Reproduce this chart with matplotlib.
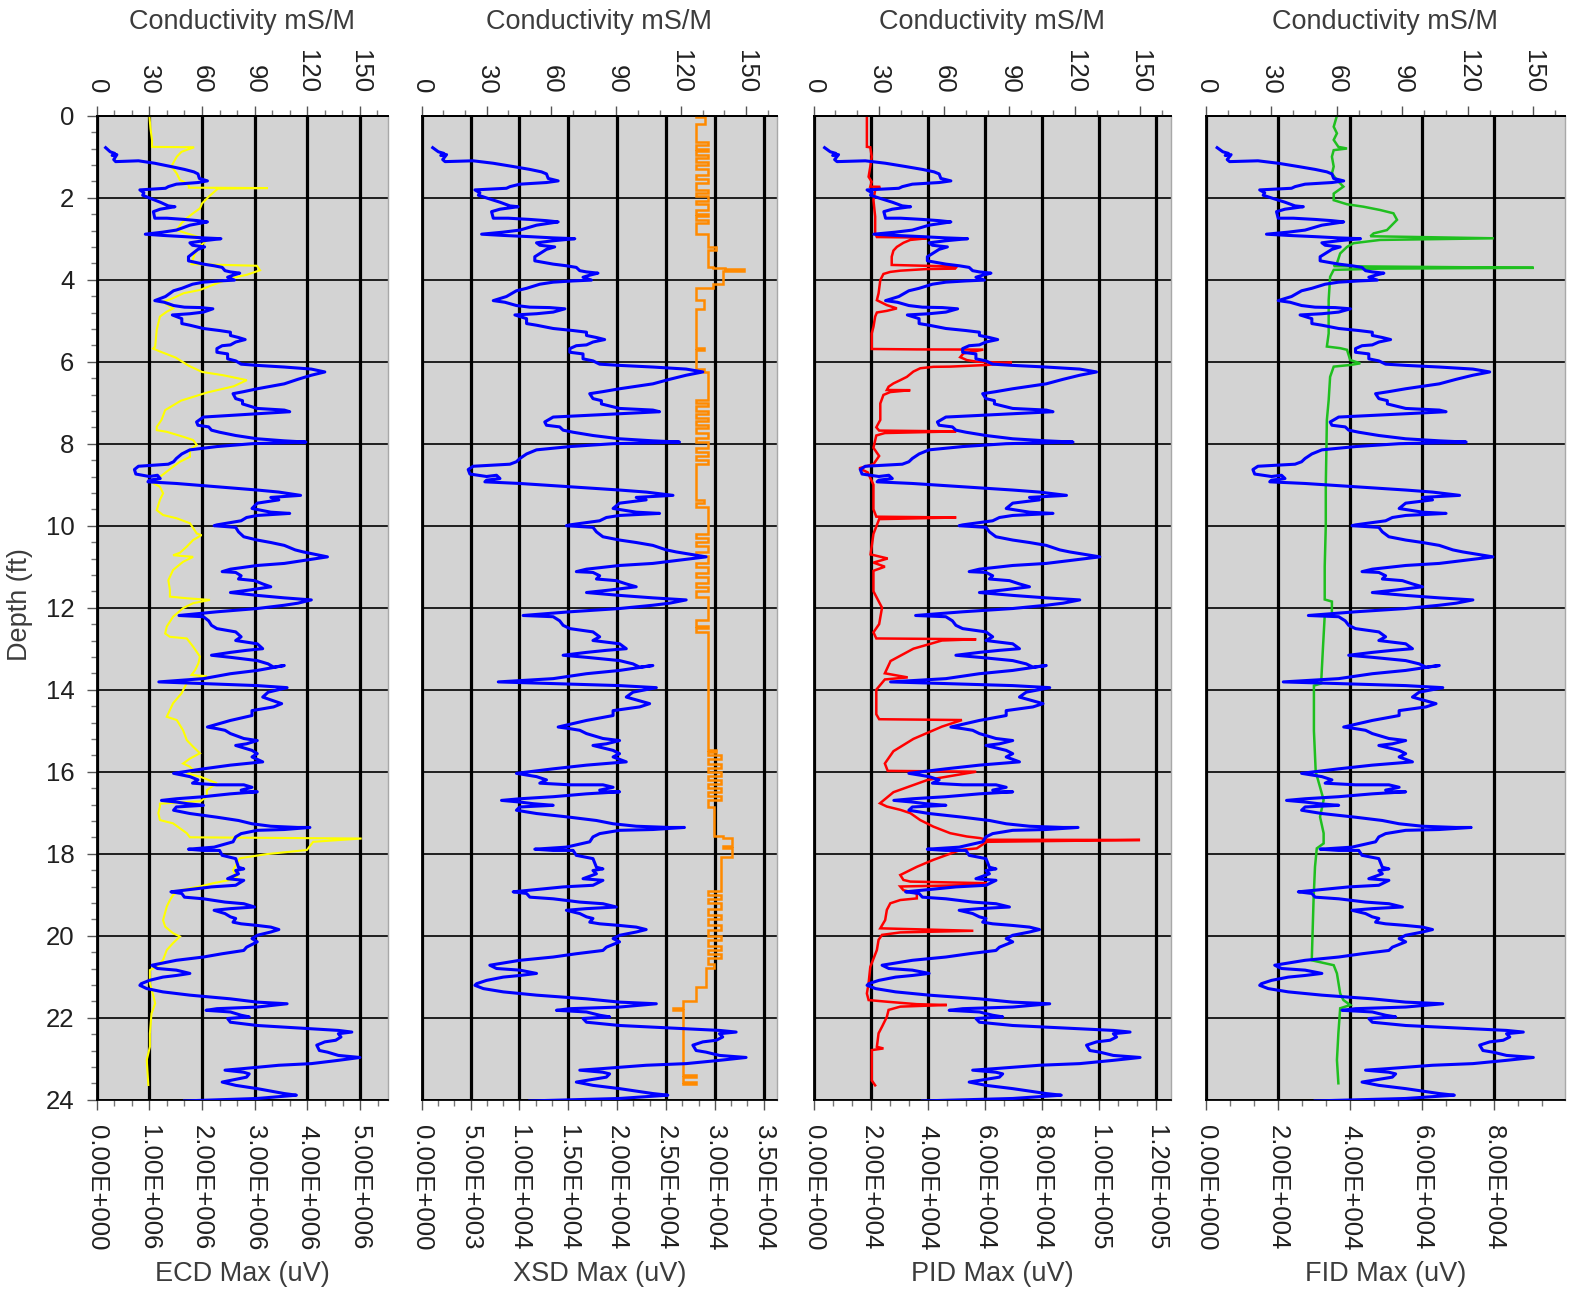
import matplotlib
matplotlib.use("Agg")
import matplotlib.pyplot as plt
from matplotlib.ticker import MultipleLocator, FixedLocator, FuncFormatter

plt.rcParams['font.family'] = ['Liberation Sans', 'DejaVu Sans']

# ---- conductivity (mS/M) vs depth (ft), same log in every panel ----
cond_depth = [0.78, 0.88, 0.92, 0.97, 0.95, 1.07, 1.12, 1.11, 1.10, 1.16, 1.24, 1.31, 1.37, 1.42, 1.53,
              1.59, 1.63, 1.67, 1.73, 1.77, 1.81, 1.88, 1.94, 2.02, 2.11, 2.20, 2.22, 2.28, 2.34, 2.50,
              2.50, 2.53, 2.56, 2.59, 2.67, 2.79, 2.84, 2.89, 2.92, 2.95, 2.98, 3.00, 3.05, 3.10, 3.16,
              3.20, 3.26, 3.44, 3.54, 3.62, 3.66, 3.70, 3.78, 3.81, 3.84, 3.89, 3.94, 4.01, 4.03, 4.06,
              4.11, 4.21, 4.27, 4.41, 4.51, 4.55, 4.63, 4.67, 4.68, 4.71, 4.79, 4.83, 4.86, 4.95, 5.07,
              5.11, 5.19, 5.24, 5.28, 5.36, 5.41, 5.46, 5.52, 5.59, 5.61, 5.68, 5.77, 5.81, 5.93, 5.98,
              6.06, 6.09, 6.13, 6.18, 6.25, 6.33, 6.43, 6.54, 6.66, 6.73, 6.78, 6.90, 6.95, 7.03, 7.14,
              7.18, 7.22, 7.27, 7.31, 7.35, 7.47, 7.55, 7.59, 7.67, 7.72, 7.80, 7.88, 7.93, 7.96, 8.00,
              8.07, 8.15, 8.25, 8.36, 8.44, 8.50, 8.55, 8.63, 8.74, 8.80, 8.77, 8.85, 8.89, 8.93, 8.97,
              9.05, 9.13, 9.18, 9.26, 9.31, 9.37, 9.45, 9.58, 9.67, 9.70, 9.75, 9.80, 9.88, 9.98, 10.00,
              10.04, 10.15, 10.27, 10.35, 10.41, 10.48, 10.59, 10.64, 10.72, 10.76, 10.84, 10.92, 10.97,
              11.06, 11.12, 11.14, 11.22, 11.30, 11.34, 11.42, 11.49, 11.54, 11.57, 11.63, 11.70, 11.76,
              11.81, 11.89, 11.94, 12.02, 12.10, 12.19, 12.22, 12.32, 12.43, 12.51, 12.59, 12.71, 12.80,
              12.88, 13.00, 13.04, 13.09, 13.16, 13.21, 13.29, 13.37, 13.45, 13.41, 13.53, 13.61, 13.73,
              13.81, 13.85, 13.90, 13.95, 14.06, 14.18, 14.34, 14.42, 14.51, 14.63, 14.75, 14.91, 14.95,
              14.99, 15.07, 15.19, 15.24, 15.32, 15.36, 15.48, 15.56, 15.64, 15.76, 15.84, 15.93, 16.04,
              16.12, 16.20, 16.28, 16.32, 16.32, 16.38, 16.45, 16.49, 16.49, 16.54, 16.61, 16.66, 16.70,
              16.74, 16.78, 16.82, 16.86, 16.94, 17.02, 17.11, 17.19, 17.27, 17.33, 17.36, 17.36, 17.41,
              17.43, 17.51, 17.59, 17.71, 17.84, 17.89, 17.92, 17.92, 18.04, 18.12, 18.33, 18.37, 18.41,
              18.49, 18.61, 18.65, 18.77, 18.81, 18.93, 18.97, 19.06, 19.10, 19.18, 19.22, 19.30, 19.34,
              19.38, 19.46, 19.54, 19.58, 19.67, 19.71, 19.75, 19.79, 19.85, 19.91, 19.99, 20.07, 20.15,
              20.28, 20.36, 20.44, 20.52, 20.60, 20.72, 20.80, 20.84, 20.92, 20.97, 21.01, 21.09, 21.17,
              21.21, 21.29, 21.37, 21.45, 21.54, 21.62, 21.66, 21.74, 21.78, 21.82, 21.86, 21.94, 21.98,
              22.02, 22.11, 22.19, 22.23, 22.27, 22.31, 22.35, 22.39, 22.47, 22.55, 22.59, 22.67, 22.80,
              22.84, 22.92, 22.97, 23.04, 23.12, 23.16, 23.24, 23.28, 23.33, 23.37, 23.45, 23.49, 23.57,
              23.65, 23.73, 23.85, 23.89, 23.97, 24.03]
cond_val = [5.1, 7.7, 10.3, 8.8, 11.5, 9.7, 10.8, 17.7, 23.8, 33.1, 42.3, 50.0, 55.4, 57.7, 58.5,
            63.1, 57.7, 45.4, 40.8, 39.2, 24.6, 26.9, 26.2, 30.8, 36.2, 40.8, 44.6, 36.2, 32.3, 33.1,
            40.0, 50.0, 57.7, 63.1, 53.1, 45.4, 37.7, 27.7, 37.7, 50.0, 60.8, 70.8, 60.8, 53.1, 54.6,
            61.5, 57.7, 52.3, 52.3, 60.8, 66.9, 71.5, 73.1, 76.2, 81.5, 77.7, 74.6, 78.5, 70.0, 60.8,
            54.6, 48.5, 43.8, 39.2, 33.1, 38.5, 43.8, 50.0, 59.2, 66.2, 60.8, 53.1, 43.1, 48.5, 48.5,
            53.1, 60.8, 70.0, 76.2, 76.2, 80.8, 84.6, 79.2, 76.2, 71.5, 68.5, 68.5, 74.6, 74.6, 79.2,
            82.3, 91.5, 106.9, 122.3, 130.0, 122.3, 114.6, 106.9, 91.5, 83.8, 77.7, 79.2, 83.1, 83.1, 91.5,
            106.9, 110.0, 91.5, 76.2, 60.8, 56.9, 57.7, 63.8, 65.4, 70.0, 79.2, 91.5, 106.9, 119.2, 88.5,
            68.5, 53.1, 48.5, 45.4, 43.8, 40.8, 23.8, 21.5, 22.3, 30.0, 34.6, 36.2, 30.0, 29.2, 45.4,
            68.5, 91.5, 103.8, 116.2, 99.2, 103.8, 91.5, 88.5, 99.2, 110.0, 91.5, 85.4, 82.3, 68.5, 66.9,
            79.2, 80.8, 83.8, 91.5, 99.2, 106.9, 113.1, 117.7, 126.9, 131.5, 119.2, 106.9, 91.5,
            76.2, 71.5, 79.2, 82.3, 80.8, 90.0, 94.6, 99.2, 91.5, 86.9, 76.2, 91.5, 106.9,
            122.3, 114.6, 106.9, 91.5, 68.5, 46.9, 60.8, 63.8, 65.4, 68.5, 79.2, 82.3, 79.2,
            91.5, 94.6, 85.4, 76.2, 65.4, 76.2, 91.5, 97.7, 100.8, 106.9, 91.5, 76.2, 60.8,
            35.4, 60.8, 91.5, 108.5, 97.7, 94.6, 105.4, 100.8, 88.5, 88.5, 76.2, 63.1, 68.5,
            73.1, 76.2, 83.8, 91.5, 85.4, 79.2, 88.5, 91.5, 88.5, 94.6, 76.2, 60.8, 43.8,
            53.1, 57.7, 54.6, 68.5, 83.8, 88.5, 82.3, 85.4, 91.5, 76.2, 60.8, 45.4, 36.9,
            45.4, 51.5, 60.8, 45.4, 43.8, 53.1, 68.5, 80.8, 88.5, 99.2, 114.6, 121.5, 106.9,
            91.5, 82.3, 79.2, 77.7, 66.9, 52.3, 60.8, 70.0, 71.5, 79.2, 80.8, 83.8, 79.2,
            80.8, 74.6, 83.8, 79.2, 65.4, 42.3, 48.5, 50.0, 60.8, 73.1, 83.8, 90.0, 76.2,
            66.9, 73.1, 76.2, 79.2, 77.7, 82.3, 91.5, 99.2, 103.8, 99.2, 91.5, 88.5, 91.5,
            85.4, 83.8, 71.5, 60.8, 45.4, 31.5, 34.6, 45.4, 53.1, 45.4, 37.7, 30.0, 25.4,
            24.6, 28.5, 37.7, 53.1, 76.2, 91.5, 108.5, 91.5, 68.5, 62.3, 76.2, 82.3, 86.9,
            74.6, 76.2, 91.5, 106.9, 122.3, 137.7, 145.4, 137.7, 139.2, 136.2, 130.0, 125.4, 126.9,
            131.5, 137.7, 150.0, 137.7, 122.3, 103.8, 83.8, 73.1, 83.8, 86.9, 85.4, 80.8, 71.5,
            79.2, 91.5, 106.9, 113.8, 91.5, 50.0]

# ---- ECD max (x 1e6 uV) ----
ecd_depth = [0.0, 0.3, 0.6, 0.76, 0.77, 0.88, 1.0, 1.16, 1.24, 1.41, 1.57, 1.61, 1.70, 1.755, 1.765,
             1.78, 1.97, 2.14, 2.26, 2.38, 2.50, 2.62, 2.79, 2.87, 2.97, 3.03, 3.2, 3.4, 3.62, 3.66,
             3.77, 3.88, 3.97, 4.09, 4.25, 4.33, 4.45, 4.54, 4.70, 4.78, 4.90, 5.22, 5.63, 5.68, 5.75,
             5.90, 6.10, 6.25, 6.33, 6.45, 6.60, 6.75, 6.95, 7.18, 7.42, 7.59, 7.67, 7.71, 7.83, 7.91,
             8.03, 8.15, 8.32, 8.44, 8.56, 8.68, 8.81, 8.97, 9.05, 9.21, 9.37, 9.62, 9.74, 9.82, 9.94,
             10.19, 10.23, 10.35, 10.51, 10.66, 10.72, 10.76, 10.88, 11.08, 11.33, 11.57, 11.73, 11.77,
             11.81, 11.89, 12.01, 12.22, 12.46, 12.63, 12.71, 12.75, 12.95, 13.19, 13.36, 13.52, 13.64,
             13.67, 13.76, 14.09, 14.33, 14.66, 14.74, 14.99, 15.23, 15.39, 15.55, 15.68, 15.80, 15.88,
             15.96, 16.04, 16.12, 16.28, 16.45, 16.61, 16.72, 16.78, 16.85, 17.01, 17.18, 17.26, 17.38,
             17.50, 17.60, 17.63, 17.71, 17.91, 18.01, 18.11, 18.24, 18.40, 18.56, 18.64, 18.72, 18.80,
             18.89, 19.01, 19.13, 19.29, 19.62, 19.78, 19.94, 20.02, 20.18, 20.35, 20.59, 20.67, 20.75,
             20.84, 21.16, 21.49, 21.65, 21.90, 22.38, 22.71, 23.03, 23.60, 23.64]
ecd_val = [1.0, 1.02, 1.05, 1.05, 1.85, 1.61, 1.52, 1.45, 1.42, 1.52, 1.58, 1.65, 1.75, 1.75, 3.25,
           2.3, 2.13, 2.0, 1.96, 1.83, 1.71, 1.61, 1.52, 1.71, 1.96, 2.09, 1.95, 1.85, 1.8, 3.04,
           3.1, 2.85, 2.53, 2.28, 1.96, 1.65, 1.45, 1.26, 1.45, 1.33, 1.2, 1.14, 1.11, 1.07, 1.2,
           1.5, 1.75, 2.0, 2.4, 2.85, 2.6, 2.1, 1.6, 1.3, 1.23, 1.14, 1.14, 1.33, 1.64, 1.83,
           1.90, 1.77, 1.77, 1.58, 1.45, 1.33, 1.20, 1.08, 1.20, 1.26, 1.20, 1.14, 1.26, 1.52, 1.77,
           1.90, 1.99, 1.83, 1.71, 1.58, 1.45, 1.83, 1.64, 1.45, 1.36, 1.39, 1.39, 1.71,
           2.15, 1.83, 1.64, 1.45, 1.33, 1.30, 1.39, 1.71, 1.83, 1.96, 1.93, 1.87, 1.80,
           2.09, 1.74, 1.61, 1.45, 1.33, 1.52, 1.64, 1.71, 1.83, 1.96, 1.77, 1.64, 1.77,
           1.83, 1.71, 1.96, 2.28, 2.09, 2.09, 1.97, 1.2, 1.20, 1.17, 1.20, 1.45, 1.58,
           1.71, 1.77, 5.03, 4.11, 3.99, 3.23, 2.72, 2.66, 2.59, 2.66, 2.53, 2.21, 1.96,
           1.58, 1.45, 1.39, 1.33, 1.26, 1.30, 1.45, 1.58, 1.45, 1.33, 1.26, 1.20, 1.14,
           1.01, 1.01, 1.08, 1.11, 1.04, 1.01, 1.01, 0.95, 0.98, 0.98]

# ---- XSD max (x 1e3 uV), value changes at the listed depth ----
xsd_depth = [0.0, 0.02, 0.2, 0.63, 0.72, 0.8, 0.87, 0.95, 1.03, 1.12, 1.2, 1.3, 1.45, 1.55, 1.63,
             1.8, 1.88, 1.95, 2.08, 2.15, 2.3, 2.4, 2.45, 2.55, 2.62, 2.89, 3.2, 3.27, 3.68, 3.72,
             3.74, 3.78, 4.1, 4.2, 4.5, 4.72, 5.67, 5.72, 6.18, 6.24, 6.93, 7.0, 7.08, 7.2, 7.28,
             7.38, 7.45, 7.55, 7.62, 7.75, 7.85, 7.95, 8.1, 8.2, 8.3, 8.4, 8.5, 8.6, 9.38, 9.45,
             9.55, 10.2, 10.3, 10.4, 10.5, 10.65, 10.75, 10.9, 11.0, 11.15, 11.25, 11.4, 11.5, 11.6,
             11.75, 12.3, 12.45, 12.5, 12.6, 15.47, 15.52, 15.6, 15.7, 15.8, 15.9, 16.0, 16.1, 16.2,
             16.3, 16.4, 16.5, 16.6, 16.7, 16.85, 17.58, 17.62, 17.8, 17.85, 18.07, 18.9, 19.0, 19.1,
             19.2, 19.35, 19.5, 19.6, 19.75, 19.85, 20.0, 20.1, 20.25, 20.35, 20.45, 20.55, 20.7,
             20.78, 21.25, 21.6, 21.76, 21.8, 23.4, 23.45, 23.58, 23.62]
xsd_val = [28.1, 29.0, 28.1, 29.3, 28.1, 29.3, 28.1, 29.3, 28.1, 29.3, 28.1, 29.3, 28.1, 29.3, 28.1,
           29.3, 28.1, 29.3, 28.1, 29.3, 28.1, 29.3, 28.1, 29.3, 28.1, 29.3, 30.1, 29.3, 29.8, 31.0,
           33.0, 30.8, 29.8, 28.1, 28.9, 28.1, 28.9, 28.1, 28.9, 29.3, 28.1, 29.3, 28.1, 29.3, 28.1,
           29.3, 28.1, 29.3, 28.1, 29.3, 28.1, 29.3, 28.1, 29.3, 28.1, 29.3, 28.1, 28.1, 28.9, 28.1,
           29.3, 28.1, 29.3, 28.1, 29.3, 28.1, 29.3, 28.1, 29.3, 28.1, 29.3, 28.1, 29.3, 28.1,
           29.3, 28.1, 29.3, 28.1, 29.3, 30.1, 29.3, 30.6, 29.3, 30.6, 29.3, 30.6, 29.3, 30.6,
           29.3, 30.6, 29.3, 30.6, 29.3, 29.96, 30.8, 31.8, 30.8, 31.8, 30.6, 29.3, 30.6, 29.3,
           30.6, 29.3, 30.6, 29.3, 30.6, 29.3, 30.6, 29.3, 30.6, 29.3, 30.6, 29.3, 29.96,
           29.1, 28.1, 26.7, 25.7, 26.7, 28.1, 26.7, 28.1, 26.7]

# ---- PID max (x 1e4 uV) ----
pid_depth = [0.0, 0.76, 0.77, 1.0, 1.24, 1.49, 1.61, 1.73, 1.735, 1.81, 2.06, 2.46, 2.87, 2.96, 2.97,
             2.99, 3.03, 3.10, 3.20, 3.29, 3.44, 3.64, 3.68, 3.73, 3.74, 3.78, 3.81, 3.86, 4.01, 4.33,
             4.50, 4.62, 4.70, 4.76, 4.80, 4.90, 5.15, 5.31, 5.69, 5.70, 5.705, 5.80, 5.89, 5.96, 6.0,
             6.02, 6.025, 6.08, 6.12, 6.125, 6.16, 6.24, 6.37, 6.45, 6.53, 6.61, 6.69, 6.695, 6.74, 6.81,
             7.02, 7.42, 7.6, 7.68, 7.7, 7.74, 7.8, 8.1, 8.3, 8.5, 8.6, 8.7, 9.0, 9.6, 9.78,
             9.8, 9.84, 10.2, 10.7, 10.8, 10.9, 11.0, 11.1, 11.6, 12.0, 12.4, 12.6, 12.75, 12.77, 12.8,
             13.0, 13.3, 13.6, 13.7, 13.75, 14.0, 14.6, 14.72, 14.74, 14.9, 15.2, 15.5, 15.8, 15.98,
             16.0, 16.2, 16.5, 16.77, 16.85, 16.93, 17.01, 17.18, 17.34, 17.50, 17.58, 17.62, 17.66,
             17.665, 17.71, 17.87, 17.91, 18.03, 18.15, 18.32, 18.52, 18.64, 18.68, 18.72, 18.76, 18.80,
             18.89, 18.97, 19.09, 19.13, 19.21, 19.37, 19.62, 19.82, 19.88, 19.92, 19.98, 20.10, 20.35,
             20.76, 21.16, 21.41, 21.57, 21.61, 21.67, 21.69, 21.73, 21.81, 21.98, 22.22, 22.38, 22.71,
             22.75, 22.79, 23.20, 23.53, 23.65]
pid_val = [1.87, 1.87, 1.99, 2.04, 1.99, 1.93, 2.04, 1.99, 2.34, 2.16, 2.10, 2.16, 2.16, 2.22, 3.62,
           3.97, 3.39, 3.15, 2.92, 2.80, 2.74, 2.74, 5.02, 4.96, 3.97, 3.04, 2.69, 2.45, 2.34, 2.28,
           2.22, 2.57, 2.92, 2.57, 2.22, 2.16, 2.10, 2.04, 2.04, 3.62, 5.95, 5.25, 5.14, 5.37, 5.72,
           6.54, 6.95, 6.07, 4.79, 4.20, 3.74, 3.50, 3.27, 3.04, 2.80, 2.63, 2.57, 3.39, 2.69, 2.45,
           2.34, 2.34, 2.2, 2.3, 5.0, 2.5, 2.2, 2.1, 2.3, 2.1, 1.6, 1.9, 2.1, 2.1, 2.2,
           5.0, 2.3, 2.1, 2.0, 2.6, 2.1, 2.5, 2.1, 2.1, 2.4, 2.3, 2.1, 2.2, 5.7, 4.5,
           3.5, 2.7, 2.5, 3.3, 2.5, 2.2, 2.2, 2.3, 5.2, 4.5, 3.5, 2.8, 2.5, 2.6,
           5.7, 4.0, 2.8, 2.33, 2.57, 3.04, 3.39, 3.74, 4.20, 4.79, 5.37, 5.84, 6.07,
           11.44, 6.07, 5.72, 5.14, 4.67, 4.20, 3.62, 3.04, 3.15, 3.39, 6.07, 5.90, 3.04,
           3.15, 3.62, 3.62, 3.04, 2.69, 2.57, 2.51, 2.34, 5.60, 3.04, 2.40, 2.28, 2.22,
           1.99, 1.93, 1.87, 1.93, 2.57, 3.62, 4.67, 3.04, 2.63, 2.57, 2.40, 2.28, 2.22,
           2.45, 2.04, 2.04, 2.04, 2.16]

# ---- FID max (x 1e4 uV) ----
fid_depth = [0.0, 0.27, 0.43, 0.59, 0.76, 0.80, 0.84, 1.0, 1.24, 1.41, 1.57, 1.73, 1.90, 2.06, 2.16,
             2.22, 2.30, 2.38, 2.54, 2.79, 2.87, 2.94, 2.99, 3.03, 3.11, 3.20, 3.36, 3.60, 3.67, 3.71,
             3.73, 3.76, 3.93, 4.50, 5.31, 5.63, 5.67, 5.71, 5.96, 6.04, 6.08, 6.12, 6.37, 6.94, 7.42,
             8.0, 9.0, 10.0, 11.0, 11.8, 11.85, 12.15, 12.2, 13.0, 13.85, 13.9, 15.0, 16.0, 16.69, 17.1,
             17.5, 17.75, 17.87, 18.32, 19.13, 20.6, 20.72, 20.92, 21.41, 21.57, 21.69, 21.77, 22.38,
             23.03, 23.6]
fid_val = [3.64, 3.55, 3.64, 3.55, 3.68, 3.92, 3.55, 3.50, 3.55, 3.50, 3.64, 3.82, 3.55, 3.55, 3.92,
           4.38, 4.84, 5.21, 5.31, 5.03, 4.66, 4.57, 8.0, 4.84, 4.10, 3.92, 3.73, 3.64, 3.55, 9.11,
           4.84, 3.55, 3.45, 3.41, 3.41, 3.36, 3.73, 3.92, 4.01, 4.29, 4.01, 3.55, 3.45, 3.41, 3.36,
           3.35, 3.33, 3.33, 3.3, 3.3, 3.5, 3.5, 3.3, 3.25, 3.2, 3.0, 3.0, 3.05, 3.27, 3.17,
           3.27, 3.27, 3.08, 3.03, 2.99, 2.94, 3.55, 3.64, 3.73, 3.82, 4.01, 3.73, 3.68,
           3.64, 3.68]

DEPTH_TICKS = list(range(0, 25, 2))
COND_TICKS = [0, 30, 60, 90, 120, 150]

# panel geometry in pixels of the 1572x1294 canvas: (left, right)
W, H = 1572, 1294
TOP, BOT = 115.7, 1099.7
PANELS = [
    dict(left=96.7, right=388, xmax=5.53e6, step=1e6, nmaj=5, cmax=166,
         d=ecd_depth, v=ecd_val, scale=1e6, color="#ffff00", lw=1.5, steps=False,
         label="ECD Max (uV)"),
    dict(left=421.7, right=777, xmax=36360, step=5e3, nmaj=7, cmax=164.3,
         d=xsd_depth, v=xsd_val, scale=1e3, color="#ff8a00", lw=1.8, steps=True,
         label="XSD Max (uV)"),
    dict(left=813.5, right=1171, xmax=125240, step=2e4, nmaj=6, cmax=164.2,
         d=pid_depth, v=pid_val, scale=1e4, color="#ff0000", lw=1.8, steps=False,
         label="PID Max (uV)"),
    dict(left=1206, right=1565, xmax=99800, step=2e4, nmaj=4, cmax=164.5,
         d=fid_depth, v=fid_val, scale=1e4, color="#1fbf1f", lw=1.8, steps=False,
         label="FID Max (uV)"),
]


def sci(v, pos):
    if v == 0:
        return "0.00E+000"
    e = 0
    m = abs(v)
    while m >= 10:
        m /= 10
        e += 1
    return f"{m:.2f}E+{e:03d}"


fig = plt.figure(figsize=(W / 100, H / 100), dpi=100)
TICK_FS = 18.5
TITLE_FS = 19.5
TXT = "#3c3c3c"

for i, p in enumerate(PANELS):
    rect = [p["left"] / W, 1 - BOT / H, (p["right"] - p["left"]) / W, (BOT - TOP) / H]
    ax = fig.add_axes(rect)
    ax.set_facecolor("#d3d3d3")
    ax.set_xlim(0, p["xmax"])
    ax.set_ylim(24, 0)

    maj = [k * p["step"] for k in range(p["nmaj"] + 1)]
    ax.xaxis.set_major_locator(FixedLocator(maj))
    ax.xaxis.set_minor_locator(MultipleLocator(p["step"] / 3))
    ax.xaxis.set_major_formatter(FuncFormatter(sci))
    ax.yaxis.set_major_locator(FixedLocator(DEPTH_TICKS))
    ax.yaxis.set_minor_locator(MultipleLocator(0.4))
    ax.grid(axis="x", which="major", color="black", lw=2.3)
    ax.grid(axis="y", which="major", color="black", lw=1.2)
    ax.set_axisbelow(True)

    ax.tick_params(axis="x", which="major", direction="out", length=7, width=1,
                   color="#555555", labelsize=TICK_FS, labelrotation=-90, pad=11,
                   labelcolor="#202020")
    ax.tick_params(axis="x", which="minor", direction="out", length=4, width=1,
                   color="#777777")
    if i == 0:
        ax.tick_params(axis="y", which="major", direction="out", length=7, width=1,
                       color="#555555", labelsize=TICK_FS, pad=9, labelcolor="#202020")
        ax.tick_params(axis="y", which="minor", direction="out", length=4, width=1,
                       color="#777777")
    else:
        ax.tick_params(axis="y", which="both", length=0, labelleft=False)

    for s in ("left", "bottom", "top"):
        ax.spines[s].set_color("black")
        ax.spines[s].set_linewidth(1.3)
    ax.spines["right"].set_color("#a8a8a8")
    ax.spines["right"].set_linewidth(1.0)

    xv = [val * p["scale"] for val in p["v"]]
    ax.plot(xv, p["d"], color=p["color"], lw=p["lw"],
            drawstyle="steps-pre" if p["steps"] else "default",
            solid_joinstyle="miter", zorder=3)

    # conductivity on the top scale
    tw = ax.twiny()
    tw.set_xlim(0, p["cmax"])
    tw.set_ylim(24, 0)
    tw.xaxis.set_major_locator(FixedLocator(COND_TICKS))
    tw.xaxis.set_minor_locator(MultipleLocator(10))
    tw.tick_params(axis="x", which="major", direction="out", length=7, width=1,
                   color="#555555", labelsize=TICK_FS, labelrotation=-90, pad=9,
                   labelcolor="#202020")
    tw.tick_params(axis="x", which="minor", direction="out", length=4, width=1,
                   color="#777777")
    for s in ("left", "right", "bottom"):
        tw.spines[s].set_visible(False)
    tw.spines["top"].set_color("black")
    tw.spines["top"].set_linewidth(1.3)
    tw.plot(cond_val, cond_depth, color="#0000ff", lw=2.2, zorder=4)

    cx = (p["left"] + p["right"]) / 2 / W
    fig.text(cx, 1 - 22 / H, "Conductivity mS/M", ha="center", va="center",
             fontsize=TITLE_FS, color=TXT)
    fig.text(cx, 1 - 1274 / H, p["label"], ha="center", va="center",
             fontsize=TITLE_FS, color=TXT)

fig.text(20 / W, 1 - 605 / H, "Depth (ft)", rotation=90, ha="center", va="center",
         fontsize=TITLE_FS, color=TXT)

fig.savefig("out.png", dpi=100)
